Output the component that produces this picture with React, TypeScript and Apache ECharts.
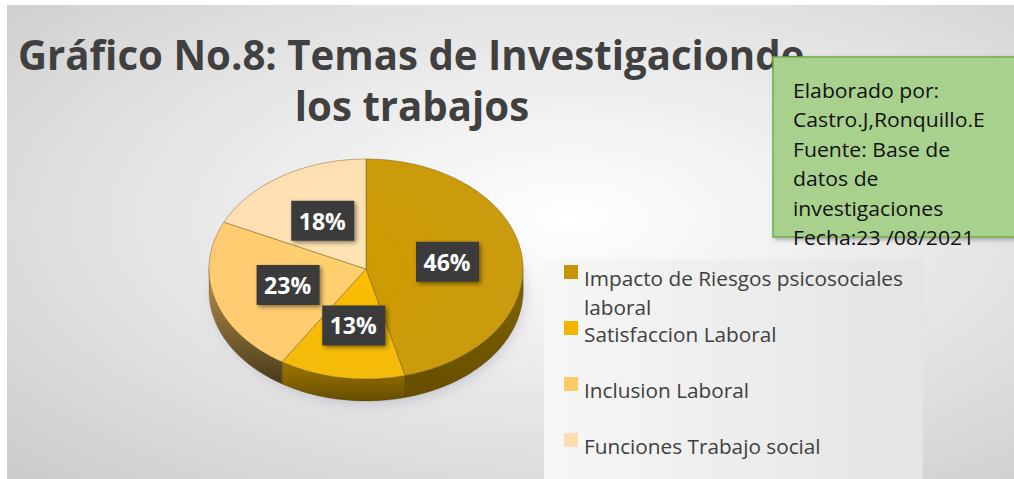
import React, { useEffect, useRef } from "react";
import * as echarts from "echarts";

const categories = [
  "Impacto de Riesgos psicosociales laboral",
  "Satisfaccion Laboral",
  "Inclusion Laboral",
  "Funciones Trabajo social",
];
const values = [46, 13, 23, 18];
const colors = ["#c69500", "#f2b600", "#ffc869", "#ffdcae"];
const sideColors = ["#836400", "#a07800", "#bb954c", "#c8a882"];
const legendLines = [
  ["Impacto de Riesgos psicosociales", "laboral"],
  ["Satisfaccion Laboral"],
  ["Inclusion Laboral"],
  ["Funciones Trabajo social"],
];
const titleLines = ["Gráfico No.8: Temas de Investigacionde", "los trabajos"];
const noteLines = [
  "Elaborado por:",
  "Castro.J,Ronquillo.E",
  "Fuente: Base de",
  "datos de",
  "investigaciones",
  "Fecha:23 /08/2021",
];

const FONT = '"Open Sans", "Noto Sans", sans-serif';

function measure(text: string, font: string): number {
  const c = document.createElement("canvas").getContext("2d");
  if (!c) return 1;
  c.font = font;
  return c.measureText(text).width || 1;
}

export default function App() {
  const ref = useRef<HTMLDivElement>(null);

  useEffect(() => {
    document.body.style.margin = "0";
    if (!ref.current) return;
    const chart = echarts.init(ref.current, undefined, { renderer: "svg" });

    const CX = 366, CY = 269, RX = 157, RY = 110, DEPTH = 22;
    const total = values.reduce((a, b) => a + b, 0);
    const starts: number[] = [];
    let acc = 0;
    values.forEach((v) => {
      starts.push((acc / total) * 360);
      acc += v;
    });
    const pt = (deg: number, dy = 0) => {
      const r = (deg * Math.PI) / 180;
      return [CX + RX * Math.sin(r), CY - RY * Math.cos(r) + dy];
    };
    const arc = (s: number, e: number, dy = 0) => {
      const n = Math.max(2, Math.ceil(e - s));
      const pts: number[][] = [];
      for (let k = 0; k <= n; k++) pts.push(pt(s + ((e - s) * k) / n, dy));
      return pts;
    };

    const titleFont = `bold 42px ${FONT}`;
    const titleScale = 787 / measure(titleLines[0], titleFont);
    const legFont = `20px ${FONT}`;
    const legScale = 319 / measure(legendLines[0][0], legFont);
    const noteFont = `20px ${FONT}`;
    const noteScale = 192 / measure(noteLines[1], noteFont);

    const graphics: any[] = [];
    graphics.push({
      type: "rect",
      z: 0,
      shape: { x: 7, y: 5, width: 1007, height: 474 },
      style: {
        fill: {
          type: "radial",
          x: 0.56,
          y: 0.45,
          r: 1.0,
          colorStops: [
            { offset: 0, color: "#ffffff" },
            { offset: 0.45, color: "#e3e3e3" },
            { offset: 1, color: "#bcbcbc" },
          ],
        },
      },
    });
    graphics.push({
      type: "ellipse",
      z: 0,
      shape: { cx: CX + 3, cy: CY + DEPTH - 4, rx: RX - 2, ry: RY },
      style: {
        fill: "rgba(120,125,150,0.45)",
        shadowBlur: 14,
        shadowColor: "rgba(110,115,145,0.7)",
        shadowOffsetY: 6,
      },
    });
    titleLines.forEach((t, i) => {
      graphics.push({
        type: "text",
        z: 1,
        x: i === 0 ? 18 : 412,
        y: i === 0 ? 66 - 0.285 * 42 : 117 - 0.285 * 42,
        scaleX: titleScale,
        style: {
          text: t,
          font: titleFont,
          fill: "#404040",
          align: i === 0 ? "left" : "center",
          verticalAlign: "middle",
        },
      });
    });
    graphics.push({
      type: "rect",
      z: 2,
      shape: { x: 773, y: 57, width: 260, height: 180 },
      style: {
        fill: "#a9d18e",
        stroke: "#70ad47",
        lineWidth: 1.5,
        shadowBlur: 4,
        shadowColor: "rgba(0,0,0,0.3)",
        shadowOffsetX: 2,
        shadowOffsetY: 2,
      },
    });
    noteLines.forEach((t, i) => {
      graphics.push({
        type: "text",
        z: 3,
        x: 793,
        y: 96 + i * 29.4 - 0.285 * 20,
        scaleX: noteScale,
        style: { text: t, font: noteFont, fill: "#111111", align: "left", verticalAlign: "middle" },
      });
    });
    graphics.push({
      type: "rect",
      z: 1,
      shape: { x: 544, y: 259, width: 379, height: 220 },
      style: {
        fill: {
          type: "linear",
          x: 0,
          y: 0,
          x2: 1,
          y2: 0,
          colorStops: [
            { offset: 0, color: "#f7f7f7" },
            { offset: 1, color: "#e4e4e4" },
          ],
        },
      },
    });
    legendLines.forEach((lines, i) => {
      graphics.push({
        type: "rect",
        z: 2,
        shape: { x: 564, y: 265 + i * 56, width: 14, height: 14 },
        style: { fill: colors[i] },
      });
      lines.forEach((t, j) => {
        graphics.push({
          type: "text",
          z: 2,
          x: 584,
          y: 284 + i * 56 + j * 29 - 0.285 * 20,
          scaleX: legScale,
          style: { text: t, font: legFont, fill: "#404040", align: "left", verticalAlign: "middle" },
        });
      });
    });

    const renderItem = (params: any, api: any) => {
      const i = params.dataIndex;
      const v = api.value(0);
      const a1 = starts[i];
      const a2 = a1 + (v / total) * 360;
      const children: any[] = [];
      const s = Math.max(a1, 90);
      const e = Math.min(a2, 270);
      if (e > s) {
        const top = arc(s, e);
        const bot = arc(s, e, DEPTH).reverse();
        children.push({
          type: "polygon",
          z2: 1,
          shape: { points: top.concat(bot) },
          style: {
            fill: {
              type: "linear",
              x: 0,
              y: 0,
              x2: 0,
              y2: 1,
              colorStops: [
                { offset: 0, color: sideColors[i] },
                { offset: 1, color: echarts.color.modifyHSL(sideColors[i], undefined, undefined, 0.2) as string },
              ],
            },
            stroke: "rgba(60,45,0,0.35)",
            lineWidth: 0.6,
          },
        });
      }
      children.push({
        type: "polygon",
        z2: 2,
        shape: { points: [[CX, CY], ...arc(a1, a2)] },
        style: {
          fill: {
            type: "radial",
            x: CX,
            y: CY,
            r: RX,
            global: true,
            colorStops: [
              { offset: 0, color: echarts.color.lift(colors[i], -0.04) as string },
              { offset: 1, color: echarts.color.lift(colors[i], 0.06) as string },
            ],
          },
          stroke: "rgba(110,85,20,0.55)",
          lineWidth: 0.8,
        },
      });
      const mid = (((a1 + a2) / 2) * Math.PI) / 180;
      const f = 0.52;
      const lx = CX + RX * f * Math.sin(mid);
      const ly = CY - RY * f * Math.cos(mid);
      children.push({
        type: "rect",
        z2: 10,
        shape: { x: lx - 31, y: ly - 20, width: 63, height: 40 },
        style: {
          fill: "#3b3b3b",
          shadowBlur: 4,
          shadowColor: "rgba(0,0,0,0.45)",
          shadowOffsetX: 2,
          shadowOffsetY: 2,
        },
      });
      children.push({
        type: "text",
        z2: 11,
        x: lx,
        y: ly,
        style: {
          text: Math.round((v / total) * 100) + "%",
          font: `bold 23px ${FONT}`,
          fill: "#ffffff",
          align: "center",
          verticalAlign: "middle",
        },
      });
      return { type: "group", children };
    };

    chart.setOption({
      animation: false,
      graphic: { elements: graphics },
      series: [
        {
          type: "custom",
          coordinateSystem: "none",
          z: 5,
          renderItem,
          data: values.map((v, i) => ({ value: [v], name: categories[i], itemStyle: { color: colors[i] } })),
        },
      ],
    });

    return () => chart.dispose();
  }, []);

  return <div ref={ref} style={{ width: 1014, height: 479, background: "#ffffff" }} />;
}
